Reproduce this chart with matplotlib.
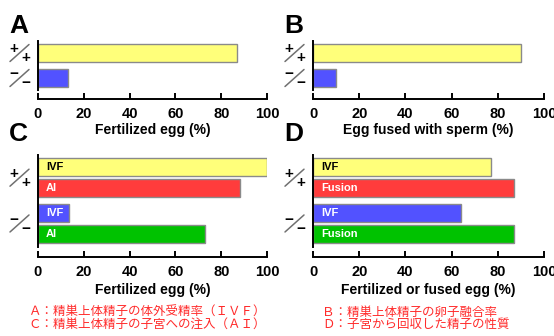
import matplotlib
matplotlib.use('Agg')
import matplotlib.pyplot as plt
from matplotlib.transforms import offset_copy

plt.rcParams['font.family'] = ['Liberation Sans', 'DejaVu Sans']

# ---------------- data ----------------
genotypes = ['+', '−']          # +/+ and -/- (drawn as stacked fraction)
a_values = [87, 13]             # +/+, -/-
b_values = [90, 10]
c_labels = ['IVF', 'AI', 'IVF', 'AI']
c_values = [100, 88, 13.5, 73]
d_labels = ['IVF', 'Fusion', 'IVF', 'Fusion']
d_values = [77, 87, 64, 87]
xticks = [0, 20, 40, 60, 80, 100]
xlabels = ['Fertilized egg (%)', 'Egg fused with sperm (%)',
           'Fertilized egg (%)', 'Fertilized or fused egg (%)']
panel_letters = ['A', 'B', 'C', 'D']
notes_left = ['Ａ：精巣上体精子の体外受精率（ＩＶＦ）', 'Ｃ：精巣上体精子の子宮への注入（ＡＩ）']
notes_right = ['Ｂ：精巣上体精子の卵子融合率', 'Ｄ：子宮から回収した精子の性質']

# ---------------- style ----------------
YELLOW = '#FFFF7A'
BLUE = '#5252FF'
RED = '#FF3C3C'
GREEN = '#00C200'
EDGE = '#8A8A8A'

W, H = 554, 336
fig = plt.figure(figsize=(W / 100, H / 100), dpi=100)


def rect(l, t, r, b):
    return [l / W, 1 - b / H, (r - l) / W, (b - t) / H]


def style_axis(ax, outward, ylim):
    ax.set_xlim(0, 100)
    ax.set_ylim(*ylim)
    for s in ['top', 'right']:
        ax.spines[s].set_visible(False)
    ax.spines['left'].set_linewidth(1.4)
    ax.spines['bottom'].set_linewidth(1.4)
    ax.spines['bottom'].set_position(('outward', outward))
    ax.set_yticks([])
    ax.set_xticks(xticks)
    ax.set_xticklabels([str(t) for t in xticks], fontsize=10.5, fontweight='bold')
    ax.tick_params(axis='x', direction='in', length=4, width=1.4, pad=5.5)


def geno(ax, y, sym):
    tr = ax.get_yaxis_transform()
    for dx, dy in [(-24, 5), (-12, -4)]:
        ax.text(0, y, sym, transform=offset_copy(tr, fig=fig, x=dx, y=dy, units='dots'),
                ha='center', va='center_baseline', fontsize=11, fontweight='bold', color='black')
    ax.annotate('', xy=(0, y), xycoords=offset_copy(tr, fig=fig, x=-9, y=8.5, units='dots'),
                xytext=(-19, -17), textcoords='offset pixels',
                arrowprops=dict(arrowstyle='-', color='#707070', lw=1.1, shrinkA=0, shrinkB=0))


def bar_label(ax, y, text, color):
    ax.annotate(text, xy=(0, y), xytext=(8, 0), textcoords='offset pixels',
                ha='left', va='center', fontsize=8, fontweight='bold', color=color)


# ---- A & B ----
ab_y = [1, 0]
ab_colors = [YELLOW, BLUE]
for i, (vals, (l, r)) in enumerate([(a_values, (38, 267)), (b_values, (313, 544))]):
    ax = fig.add_axes(rect(l, 41, r, 90))
    ax.barh(ab_y, vals, height=0.72, color=ab_colors, edgecolor=EDGE, linewidth=1)
    style_axis(ax, 6.5, (-0.48, 1.48))
    for y, g in zip(ab_y, genotypes):
        geno(ax, y, g)
    ax.set_xlabel(xlabels[i], fontsize=10, fontweight='bold')
    ax.xaxis.set_label_coords(0.5, -40 / 49)
    ax.xaxis.label.set_va('center')

# ---- C & D ----
cd_y = [3.17, 2.19, 1, 0]
cd_colors = [YELLOW, RED, BLUE, GREEN]
cd_text_colors = ['black', 'white', 'white', 'white']
for i, (vals, labs, (l, r)) in enumerate([(c_values, c_labels, (38, 267)),
                                          (d_values, d_labels, (313, 544))]):
    ax = fig.add_axes(rect(l, 155, r, 247))
    ax.barh(cd_y, vals, height=0.86, color=cd_colors, edgecolor=EDGE, linewidth=1)
    style_axis(ax, 7.2, (-0.62, 3.76))
    for y, lab, tc in zip(cd_y, labs, cd_text_colors):
        bar_label(ax, y, lab, tc)
    geno(ax, (cd_y[0] + cd_y[1]) / 2, genotypes[0])
    geno(ax, (cd_y[2] + cd_y[3]) / 2, genotypes[1])
    ax.set_xlabel(xlabels[2 + i], fontsize=10, fontweight='bold')
    ax.xaxis.set_label_coords(0.5, -43 / 92)
    ax.xaxis.label.set_va('center')

# ---- panel letters ----
for letter, (x, yb) in zip(panel_letters, [(9, 33), (284, 33), (9, 141), (284, 141)]):
    fig.text(x / W, 1 - yb / H, letter, fontsize=19, fontweight='bold', va='baseline')

# ---- notes ----
for j, yc in enumerate([312.5, 324]):
    fig.text(28 / W, 1 - yc / H, notes_left[j], color='#FF2A2A', fontsize=9,
             va='center', family=['Noto Sans CJK JP', 'DejaVu Sans'])
    fig.text(322 / W, 1 - yc / H, notes_right[j], color='#FF2A2A', fontsize=9,
             va='center', family=['Noto Sans CJK JP', 'DejaVu Sans'])

fig.savefig('out.png', dpi=100)
